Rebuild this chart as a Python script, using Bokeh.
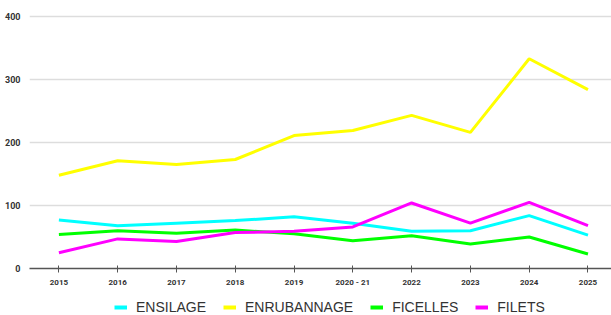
from bokeh.plotting import figure
from bokeh.layouts import column
from bokeh.models import Range1d, FixedTicker, Legend, LegendItem
from bokeh.embed import file_html
from bokeh.resources import INLINE

years = ["2015", "2016", "2017", "2018", "2019", "2020 - 21", "2022", "2023", "2024", "2025"]
ensilage = [77, 68, 72, 76, 82, 72, 59, 60, 84, 53]
enrubannage = [148, 171, 165, 173, 211, 219, 243, 216, 333, 284]
ficelles = [54, 60, 56, 61, 55, 44, 52, 39, 50, 23]
filets = [25, 47, 43, 57, 59, 66, 104, 72, 105, 68]

names = ["ENSILAGE", "ENRUBANNAGE", "FICELLES", "FILETS"]
colors = ["#00FFFF", "#FFFF00", "#00FF00", "#FF00FF"]
series = [ensilage, enrubannage, ficelles, filets]

xs = list(range(len(years)))

p = figure(width=611, height=298, output_backend="svg", toolbar_location=None,
           x_range=Range1d(-0.5, 9.4), y_range=Range1d(0, 425.4),
           min_border_left=29, min_border_right=0, min_border_top=0, min_border_bottom=30)
p.outline_line_color = None
p.background_fill_color = "white"
p.border_fill_color = "white"

for name, col, vals in zip(names, colors, series):
    p.line(xs, vals, line_color=col, line_width=3)

p.xaxis.ticker = FixedTicker(ticks=xs)
p.xaxis.major_label_overrides = {i: y for i, y in enumerate(years)}
p.xaxis.axis_line_color = "#555555"
p.xaxis.axis_line_width = 1.5
p.xaxis.major_tick_in = 3
p.xaxis.major_tick_out = 4
p.xaxis.major_tick_line_color = "#555555"
p.xaxis.minor_tick_line_color = None
p.xaxis.major_label_text_font = "Roboto"
p.xaxis.major_label_text_font_size = "8px"
p.xaxis.major_label_text_font_style = "bold"
p.xaxis.major_label_text_color = "#333333"
p.xaxis.major_label_standoff = 5

p.yaxis.ticker = FixedTicker(ticks=[0, 100, 200, 300, 400])
p.yaxis.axis_line_color = None
p.yaxis.major_tick_line_color = None
p.yaxis.minor_tick_line_color = None
p.yaxis.major_label_text_font = "Roboto"
p.yaxis.major_label_text_font_size = "9px"
p.yaxis.major_label_text_font_style = "bold"
p.yaxis.major_label_text_color = "#333333"
p.yaxis.major_label_standoff = 3

p.xgrid.grid_line_color = None
p.ygrid.grid_line_color = "#dddddd"
p.ygrid.grid_line_width = 1.5

# legend strip below the chart
lg = figure(width=611, height=17, output_backend="svg", toolbar_location=None,
            x_range=Range1d(-0.5, 9.4), y_range=Range1d(0, 425.4),
            x_axis_location=None, y_axis_location=None,
            min_border_left=0, min_border_right=0, min_border_top=0, min_border_bottom=0)
lg.outline_line_color = None
lg.xgrid.grid_line_color = None
lg.ygrid.grid_line_color = None
items = []
for name, col, vals in zip(names, colors, series):
    r = lg.line(xs, vals, line_color=col, line_width=4, visible=False)
    items.append(LegendItem(label=name, renderers=[r]))

legend = Legend(items=items, orientation="horizontal", location=(85, 0))
legend.label_text_font = "Liberation Sans"
legend.label_text_font_size = "14px"
legend.label_text_color = "#333333"
legend.label_height = 14
legend.glyph_width = 13
legend.glyph_height = 14
legend.spacing = 17
legend.label_standoff = 9
legend.border_line_color = None
legend.background_fill_alpha = 0
legend.margin = 0
legend.padding = 0
lg.add_layout(legend, "center")

layout = column(p, lg, spacing=0)
open("out.html", "w").write(file_html(layout, INLINE))
